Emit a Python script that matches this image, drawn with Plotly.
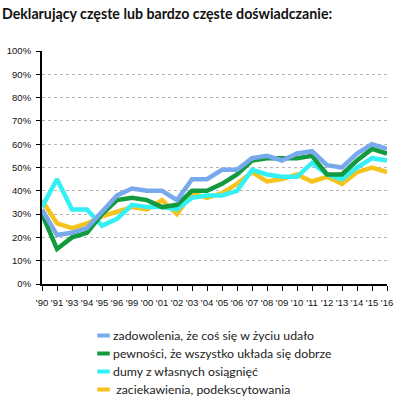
import plotly.graph_objects as go

years = ["'90", "'91", "'93", "'94", "'95", "'96", "'99", "'00", "'01", "'02", "'03", "'04",
         "'05", "'06", "'07", "'08", "'09", "'10", "'11", "'12", "'13", "'14", "'15", "'16"]

zadowolenia = [32, 21, 22, 24, 31, 38, 41, 40, 40, 36, 45, 45, 49, 49, 54, 55, 53, 56, 57, 51, 50, 56, 60, 58]
pewnosci = [30, 15, 20, 22, 30, 36, 37, 36, 33, 34, 40, 40, 43, 47, 53, 54, 54, 54, 55, 47, 47, 53, 58, 56]
dumy = [33, 45, 32, 32, 25, 28, 34, 33, 33, 32, 37, 38, 38, 40, 49, 47, 46, 46, 52, 47, 45, 50, 54, 53]
zaciekawienia = [36, 26, 24, 26, 29, 31, 33, 32, 36, 30, 39, 37, 39, 43, 48, 44, 45, 47, 44, 46, 43, 48, 50, 48]

names = ["zadowolenia, że coś się w życiu udało",
         "pewności, że wszystko układa się dobrze",
         "dumy z własnych osiągnięć",
         " zaciekawienia, podekscytowania"]
colors = ["#78a9ec", "#119a3e", "#33f0f4", "#f6c21c"]
series = [zadowolenia, pewnosci, dumy, zaciekawienia]

fig = go.Figure()
for name, col, vals in reversed(list(zip(names, colors, series))):
    fig.add_trace(go.Scatter(x=years, y=vals, mode="lines", name=name,
                             line=dict(color=col, width=4.5), showlegend=False,
                             hoverinfo="skip"))

# custom legend (short swatches like the reference)
plot_l, plot_r, plot_t, plot_b = 34, 393, 51, 284
pw, ph = plot_r - plot_l, plot_b - plot_t
def px(x):
    return (x - plot_l) / pw
def py(y):
    return (plot_b - y) / ph

shapes = []
annotations = []
for i, (name, col) in enumerate(zip(names, colors)):
    yy = 335.0 + i * 18.0
    shapes.append(dict(type="line", xref="paper", yref="paper",
                       x0=px(91.5), x1=px(104.5), y0=py(yy + 0.5), y1=py(yy + 0.5),
                       line=dict(color=col, width=4)))
    annotations.append(dict(xref="paper", yref="paper", x=px(106.5), y=py(yy),
                            xanchor="left", yanchor="middle", showarrow=False,
                            borderpad=0,
                            text=name.replace(" ", "\u00a0", 1) if name.startswith(" ") else name,
                            font=dict(family="Lato", size=12.3, color="#222")))

fig.update_layout(
    width=400, height=396,
    margin=dict(l=34, r=7, t=51, b=112),
    paper_bgcolor="white", plot_bgcolor="white",
    title=dict(text="<b>Deklarujący częste lub bardzo częste doświadczanie:</b>",
               x=2/400, xanchor="left", xref="container",
               y=1-14/396, yanchor="middle", yref="container",
               font=dict(family="Lato", size=14.2, color="#111")),
    showlegend=False,
    hovermode=False,
    shapes=shapes,
    annotations=annotations,
    xaxis=dict(type="category", range=[0, 23], showgrid=False,
               showline=True, linecolor="black", linewidth=2,
               ticks="outside", ticklen=5, tickcolor="black", tickwidth=1,
               ticklabelstandoff=4,
               tickfont=dict(family="Liberation Sans", size=9.5, color="#111")),
    yaxis=dict(range=[0, 100], dtick=10, ticksuffix="%", showgrid=True,
               gridcolor="#b5b5b5", griddash="dot", gridwidth=1,
               zeroline=False, showline=True, linecolor="black", linewidth=2,
               ticks="outside", ticklen=4, tickcolor="black",
               ticklabelstandoff=3,
               tickfont=dict(family="Liberation Sans", size=9.5, color="#111")),
)

fig.write_html("out.html", config={"displayModeBar": False, "staticPlot": True},
               post_script="document.body.style.margin='0';")
